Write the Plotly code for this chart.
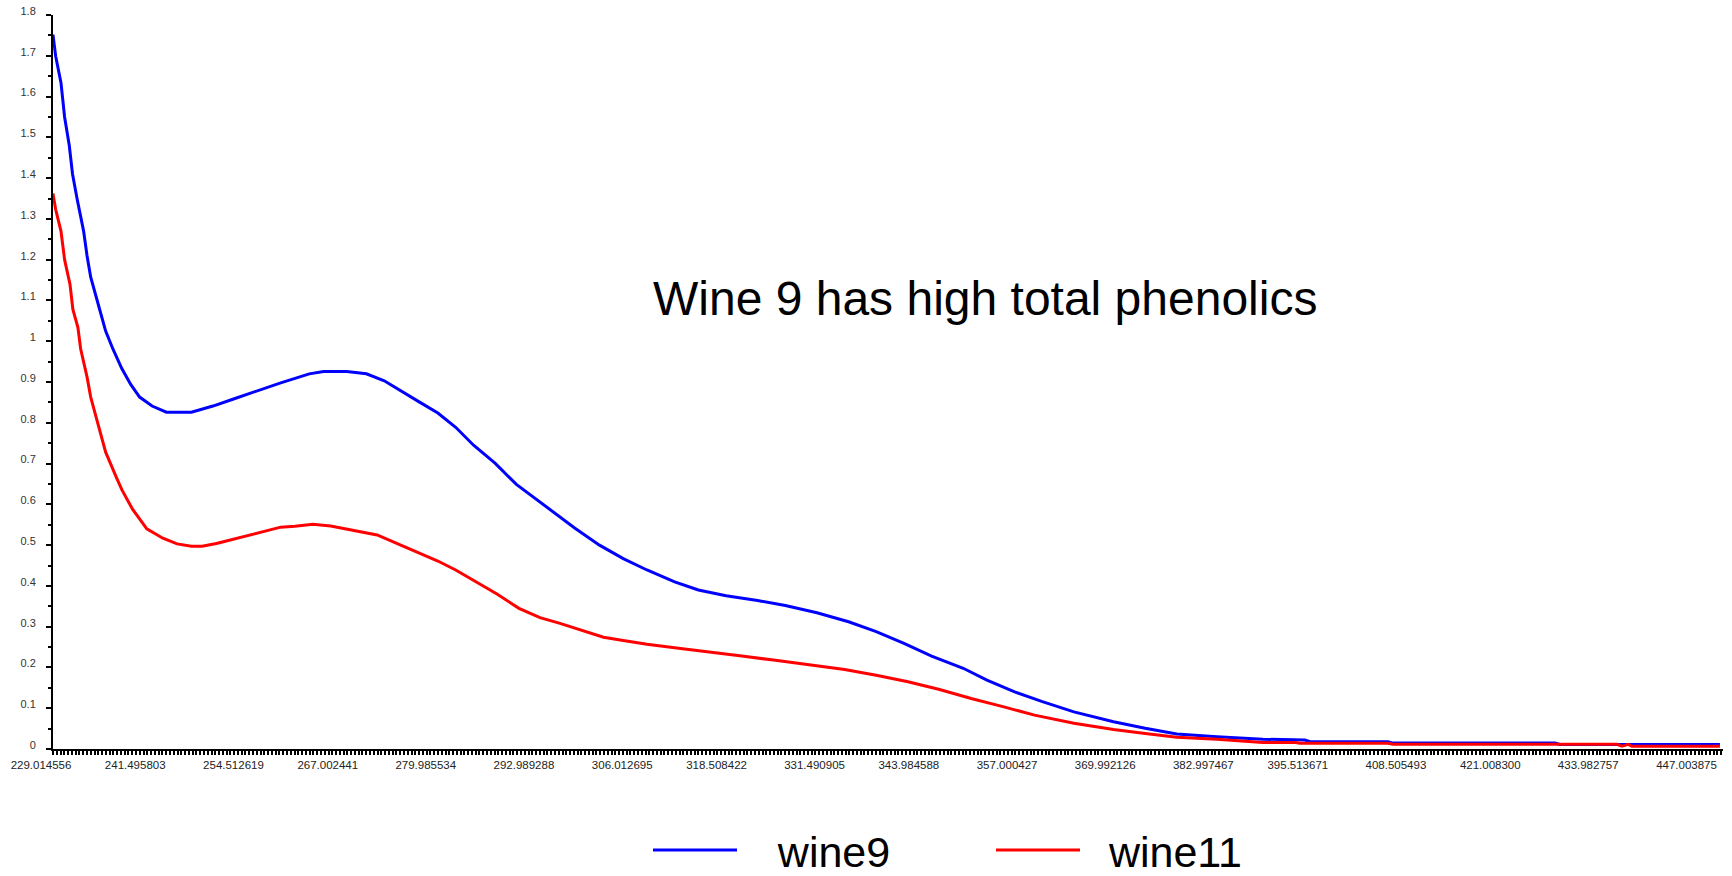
import plotly.graph_objects as go

# ---- data (wavelength in nm, absorbance) ----
x_tick_labels = ["229.014556", "241.495803", "254.512619", "267.002441", "279.985534",
                 "292.989288", "306.012695", "318.508422", "331.490905", "343.984588",
                 "357.000427", "369.992126", "382.997467", "395.513671", "408.505493",
                 "421.008300", "433.982757", "447.003875"]

wine9_wl = [229.01, 229.37, 230.07, 230.55, 231.17, 231.60, 232.21, 233.07, 233.53, 234.01,
            235.06, 235.99, 236.95, 238.13, 239.31, 240.49, 242.14, 244.04, 247.35, 250.20,
            253.03, 256.34, 259.18, 262.97, 264.86, 267.93, 270.53, 272.90, 275.26, 277.63,
            280.00, 282.36, 284.73, 287.57, 290.40, 294.19, 298.12, 301.41, 304.56, 307.70,
            311.37, 314.51, 318.18, 322.36, 326.03, 330.22, 334.41, 338.07, 341.75, 345.41,
            349.60, 352.74, 356.41, 360.08, 364.26, 369.51, 373.70, 377.89, 383.21, 389.30,
            394.20, 394.87, 395.53, 405.86, 406.53, 427.98, 428.65, 449.84]
wine9_abs = [1.752, 1.699, 1.634, 1.550, 1.480, 1.410, 1.349, 1.270, 1.209, 1.157,
             1.087, 1.025, 0.981, 0.933, 0.894, 0.863, 0.841, 0.826, 0.826, 0.841,
             0.859, 0.881, 0.898, 0.920, 0.926, 0.926, 0.920, 0.903, 0.876, 0.850,
             0.824, 0.789, 0.745, 0.701, 0.649, 0.596, 0.542, 0.500, 0.467, 0.439,
             0.410, 0.390, 0.376, 0.364, 0.352, 0.334, 0.312, 0.288, 0.259, 0.228,
             0.198, 0.169, 0.140, 0.116, 0.091, 0.067, 0.051, 0.037, 0.030, 0.024,
             0.022, 0.022, 0.018, 0.018, 0.0145, 0.0145, 0.011, 0.011]

wine11_wl = [229.01, 229.37, 230.07, 230.55, 231.27, 231.65, 232.31, 232.68, 233.53, 234.01,
             234.96, 235.99, 237.41, 238.13, 239.55, 241.44, 243.57, 245.45, 247.35, 248.77,
             250.66, 253.51, 256.34, 259.18, 261.07, 263.44, 265.80, 269.11, 271.95, 274.32,
             277.15, 280.00, 282.36, 284.73, 287.83, 290.74, 293.53, 296.18, 298.80, 301.94,
             304.56, 307.70, 311.89, 316.09, 320.27, 324.46, 328.66, 333.89, 338.07, 342.28,
             346.46, 350.65, 354.85, 359.04, 364.26, 369.51, 373.70, 377.89, 383.21, 389.30,
             393.67, 394.20, 405.86, 406.53, 436.20, 436.86, 437.26, 437.66, 438.19, 449.84]
wine11_abs = [1.362, 1.323, 1.270, 1.200, 1.139, 1.078, 1.034, 0.981, 0.912, 0.863,
              0.798, 0.728, 0.666, 0.636, 0.588, 0.540, 0.517, 0.503, 0.497, 0.497,
              0.504, 0.517, 0.531, 0.544, 0.546, 0.551, 0.547, 0.535, 0.525, 0.506,
              0.483, 0.461, 0.439, 0.414, 0.380, 0.345, 0.322, 0.308, 0.292, 0.274,
              0.266, 0.257, 0.247, 0.238, 0.228, 0.218, 0.208, 0.195, 0.181, 0.165,
              0.146, 0.124, 0.104, 0.083, 0.063, 0.048, 0.038, 0.029, 0.024, 0.016,
              0.016, 0.014, 0.014, 0.0115, 0.0115, 0.007, 0.009, 0.0115, 0.007, 0.007]

tick_vals = [float(t) for t in x_tick_labels]
NBSP = "\u00a0"

fig = go.Figure()
fig.add_trace(go.Scatter(x=wine9_wl, y=wine9_abs, mode="lines", name=NBSP * 3 + "wine9",
                         line=dict(color="#0000FF", width=3)))
fig.add_trace(go.Scatter(x=wine11_wl, y=wine11_abs, mode="lines", name=NBSP * 2 + "wine11",
                         line=dict(color="#FF0000", width=3)))

fig.update_layout(
    width=1732, height=876,
    margin=dict(l=53, r=9, t=15, b=127, autoexpand=False),
    paper_bgcolor="white", plot_bgcolor="white",
    font=dict(family="Liberation Sans, Arial, sans-serif", color="#222"),
    showlegend=True,
    legend=dict(orientation="h", xref="container", yref="container",
                x=648 / 1732, xanchor="left", y=(876 - 850) / 876, yanchor="middle",
                font=dict(family="Liberation Sans, Arial", size=43, color="black"),
                itemwidth=84, entrywidth=244, bgcolor="rgba(0,0,0,0)"),
    annotations=[dict(text="Wine 9 has high total phenolics", x=0.558, y=0.614,
                      xref="paper", yref="paper", showarrow=False,
                      xanchor="center", yanchor="middle",
                      font=dict(family="Liberation Sans, Arial", size=48, color="black"))],
)

fig.update_xaxes(
    range=[229.0146, 450.25], showgrid=False, zeroline=False, automargin=False,
    showline=True, linecolor="black", linewidth=2,
    tickmode="array", tickvals=tick_vals, ticktext=x_tick_labels,
    ticks="outside", ticklen=4, tickwidth=2, tickcolor="black",
    tickfont=dict(size=11.5, color="#222"), ticklabelshift=-12,
    minor=dict(tickmode="linear", tick0=229.014556, dtick=0.5, ticks="outside",
               ticklen=4, tickwidth=1.5, tickcolor="black"),
)
fig.update_yaxes(
    range=[0, 1.8], showgrid=False, zeroline=False, automargin=False,
    showline=True, linecolor="black", linewidth=2,
    tickmode="linear", tick0=0, dtick=0.1,
    ticks="outside", ticklen=5, tickwidth=2, tickcolor="black",
    tickfont=dict(size=11, color="#333"), ticklabelstandoff=8, ticklabelshift=-4,
    minor=dict(dtick=0.05, ticks="outside", ticklen=3, tickwidth=2, tickcolor="black"),
)

fig.write_html("out.html")
